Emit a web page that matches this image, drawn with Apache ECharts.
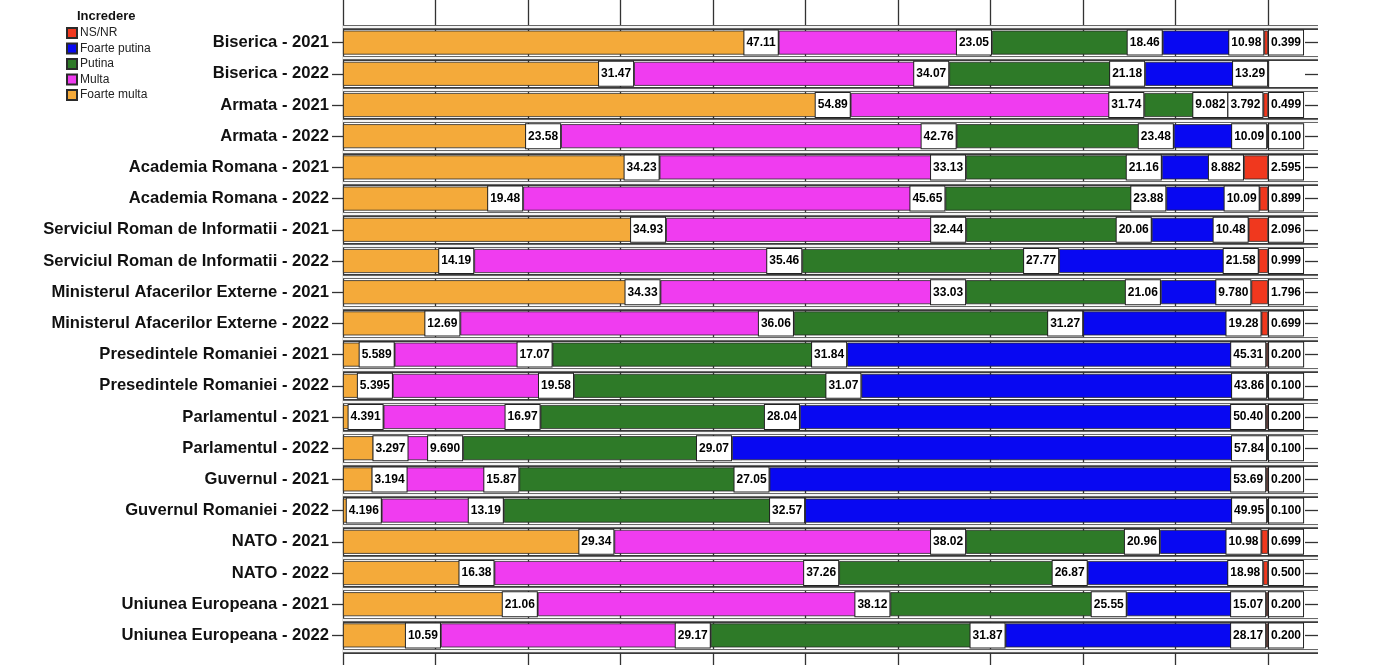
<!DOCTYPE html>
<html>
<head>
<meta charset="utf-8">
<script src="https://cdn.jsdelivr.net/npm/echarts@6/dist/echarts.min.js"></script>
<style>
html,body{margin:0;padding:0;background:#fff;}
#chart{width:1400px;height:665px;}
</style>
</head>
<body>
<div id="chart"></div>
<script>
const categories = [
  'Biserica - 2021','Biserica - 2022','Armata - 2021','Armata - 2022',
  'Academia Romana - 2021','Academia Romana - 2022',
  'Serviciul Roman de Informatii - 2021','Serviciul Roman de Informatii - 2022',
  'Ministerul Afacerilor Externe - 2021','Ministerul Afacerilor Externe - 2022',
  'Presedintele Romaniei - 2021','Presedintele Romaniei - 2022',
  'Parlamentul - 2021','Parlamentul - 2022','Guvernul - 2021','Guvernul Romaniei - 2022',
  'NATO - 2021','NATO - 2022','Uniunea Europeana - 2021','Uniunea Europeana - 2022'
];
const foarteMulta = [47.11,31.47,54.89,23.58,34.23,19.48,34.93,14.19,34.33,12.69,5.589,5.395,4.391,3.297,3.194,4.196,29.34,16.38,21.06,10.59];
const multa       = [23.05,34.07,31.74,42.76,33.13,45.65,32.44,35.46,33.03,36.06,17.07,19.58,16.97,9.690,15.87,13.19,38.02,37.26,38.12,29.17];
const putina      = [18.46,21.18,9.082,23.48,21.16,23.88,20.06,27.77,21.06,31.27,31.84,31.07,28.04,29.07,27.05,32.57,20.96,26.87,25.55,31.87];
const foartePutina= [10.98,13.29,3.792,10.09,8.882,10.09,10.48,21.58,9.780,19.28,45.31,43.86,50.40,57.84,53.69,49.95,10.98,18.98,15.07,28.17];
const nsnr        = [0.399,null,0.499,0.100,2.595,0.899,2.096,0.999,1.796,0.699,0.200,0.100,0.200,0.100,0.200,0.100,0.699,0.500,0.200,0.200];
const legendOrder = ['NS/NR','Foarte putina','Putina','Multa','Foarte multa'];

const XMAX = 100 + 50 / 9.25;

function fmt(v){ return v < 1 ? v.toFixed(3) : v.toPrecision(4); }

const labelBase = {
  show: true,
  position: 'insideRight',
  distance: 1,
  formatter: p => p.value == null ? '' : fmt(p.value),
  backgroundColor: '#fff',
  borderColor: '#222',
  borderWidth: 1,
  padding: [5, 2, 5, 2],
  color: '#000',
  fontFamily: 'Liberation Sans, Arial, sans-serif',
  fontWeight: 'bold',
  fontSize: 12,
  lineHeight: 14
};

function mkData(arr){
  return arr.map(v => (v != null && v < 3.5) ? {value: v, label: {position: 'right', distance: 0}} : v);
}

function mkSeries(name, arr, color, isLast){
  return {
    name, type: 'bar', stack: 'total', xAxisIndex: 0, yAxisIndex: 0,
    barCategoryGap: '23%',
    data: isLast ? arr : mkData(arr),
    itemStyle: {color, borderColor: '#2a2a2a', borderWidth: 0.8},
    label: Object.assign({}, labelBase, isLast ? {position: 'right', distance: 1} : {}),
    emphasis: {disabled: true}
  };
}

const chart = echarts.init(document.getElementById('chart'), null, {renderer: 'canvas'});
chart.setOption({
  animation: false,
  backgroundColor: '#fff',
  title: {
    text: 'Incredere', left: 72, top: 5,
    textStyle: {fontFamily: 'Liberation Sans, Arial, sans-serif', fontWeight: 'bold', fontSize: 13, color: '#111'}
  },
  legend: {
    data: legendOrder, orient: 'vertical', left: 61, top: 21,
    itemWidth: 10, itemHeight: 10, itemGap: 1.5, icon: 'rect',
    textStyle: {fontFamily: 'Liberation Sans, Arial, sans-serif', fontSize: 12, lineHeight: 14, color: '#222', padding: [0,0,0,-2]}
  },
  grid: [
    {left: 343, right: 82, top: 27, bottom: 14},
    {left: 343, right: 82, top: -5, bottom: -5}
  ],
  xAxis: [
    {type: 'value', gridIndex: 0, min: 0, max: XMAX, interval: 10,
     axisLabel: {show: false}, axisTick: {show: false}, axisLine: {show: false}, splitLine: {show: false}},
    {type: 'value', gridIndex: 1, min: 0, max: XMAX, interval: 10,
     axisLabel: {show: false}, axisTick: {show: false}, axisLine: {show: false},
     splitLine: {show: true, showMaxLine: false, lineStyle: {color: '#333', width: 1.3}}}
  ],
  yAxis: [
    {type: 'category', gridIndex: 0, data: categories, inverse: true, position: 'left',
     axisLine: {show: false},
     axisTick: {show: true, alignWithLabel: true, length: 11, lineStyle: {color: '#333', width: 1.3}},
     axisLabel: {margin: 14, color: '#111', fontFamily: 'Liberation Sans, Arial, sans-serif', fontWeight: 'bold', fontSize: 16.6},
     splitLine: {show: true, lineStyle: {color: '#3a3a3a', width: 5}}},
    {type: 'category', gridIndex: 0, data: categories, inverse: true, position: 'right', z: 1,
     axisLine: {show: false},
     axisTick: {show: true, inside: true, alignWithLabel: true, length: 13, lineStyle: {color: '#333', width: 1.3}},
     axisLabel: {show: false},
     splitLine: {show: true, lineStyle: {color: '#f4f4f4', width: 2.4}}},
    {type: 'value', gridIndex: 1, show: false}
  ],
  series: [
    mkSeries('Foarte multa', foarteMulta, '#F4AA3A', false),
    mkSeries('Multa', multa, '#F03CF0', false),
    mkSeries('Putina', putina, '#2E7A28', false),
    mkSeries('Foarte putina', foartePutina, '#0808F2', false),
    mkSeries('NS/NR', nsnr, '#F0381E', true)
  ]
});
</script>
</body>
</html>
